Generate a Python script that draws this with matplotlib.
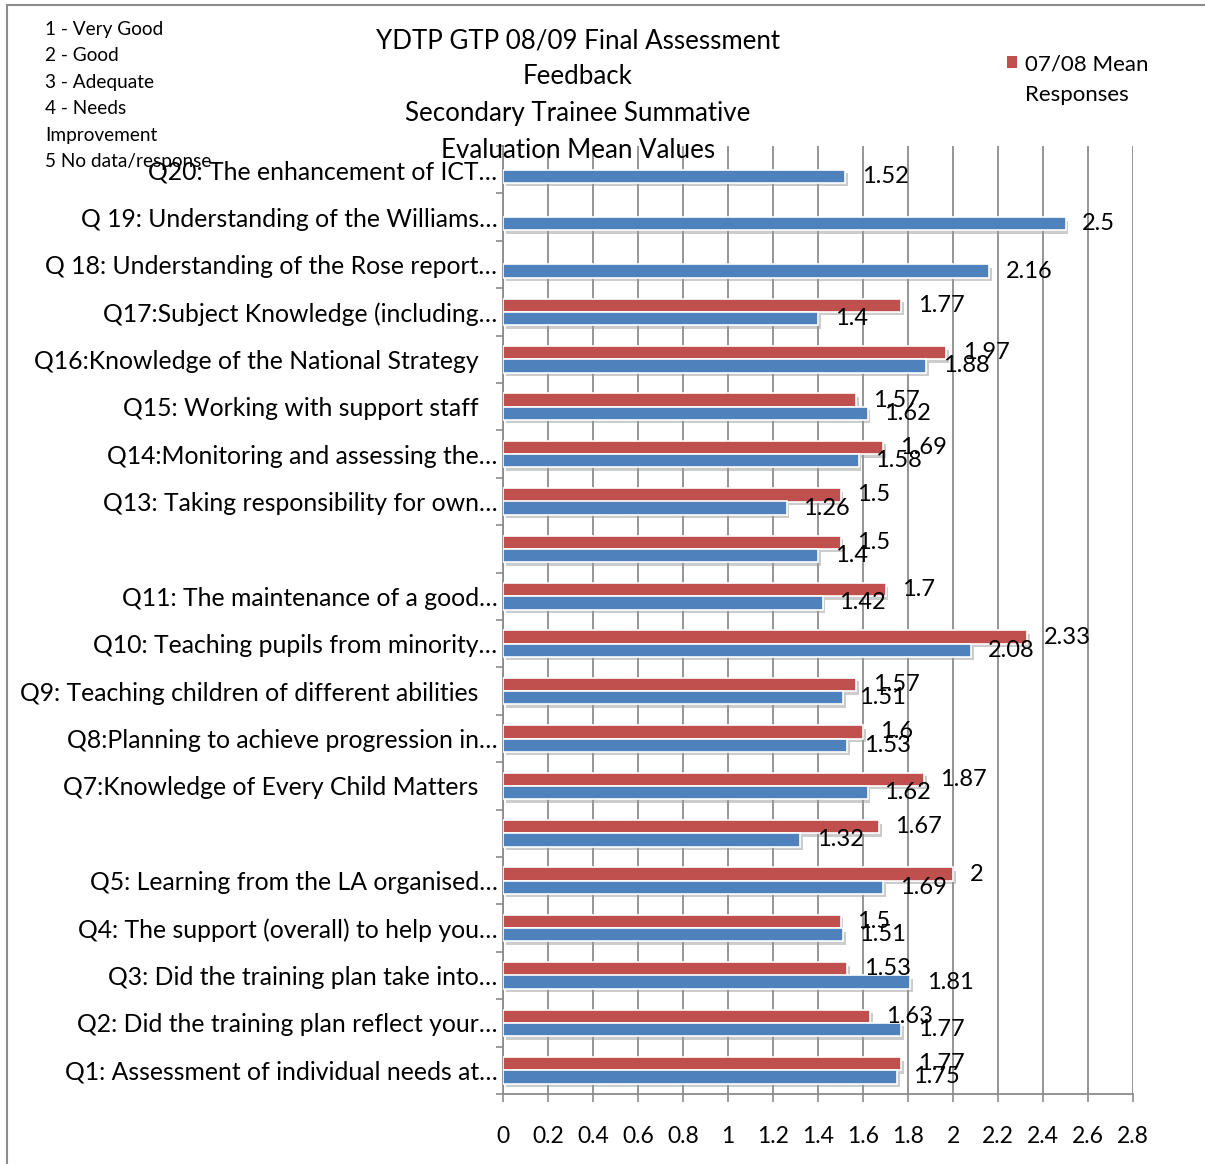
"""Horizontal bar chart: YDTP GTP 08/09 secondary trainee evaluation means."""

import matplotlib

matplotlib.use("Agg")
import matplotlib.pyplot as plt
import matplotlib.patheffects as pe
from matplotlib.patches import Patch, Rectangle
import numpy as np

plt.rcParams["font.family"] = ["Lato", "DejaVu Sans"]

# Q1 .. Q20 (bottom to top)
questions = [
    "Q1: Assessment of individual needs at…",
    "Q2: Did the training plan reflect your…",
    "Q3: Did the training plan take into…",
    "Q4: The support (overall) to help you…",
    "Q5: Learning from the LA organised…",
    "",
    "Q7:Knowledge of Every Child Matters   ",
    "Q8:Planning to achieve progression in…",
    "Q9: Teaching children of different abilities   ",
    "Q10: Teaching pupils from minority…",
    "Q11: The maintenance of a good…",
    "",
    "Q13: Taking responsibility for own…",
    "Q14:Monitoring and assessing the…",
    "Q15: Working with support staff   ",
    "Q16:Knowledge of the National Strategy   ",
    "Q17:Subject Knowledge (including…",
    "Q 18: Understanding of the Rose report…",
    "Q 19: Understanding of the Williams…",
    "Q20: The enhancement of ICT…",
]
mean_0809 = [1.75, 1.77, 1.81, 1.51, 1.69, 1.32, 1.62, 1.53, 1.51, 2.08,
             1.42, 1.4, 1.26, 1.58, 1.62, 1.88, 1.4, 2.16, 2.5, 1.52]
mean_0708 = [1.77, 1.63, 1.53, 1.5, 2.0, 1.67, 1.87, 1.6, 1.57, 2.33,
             1.7, 1.5, 1.5, 1.69, 1.57, 1.97, 1.77, np.nan, np.nan, np.nan]
x_ticks = np.arange(0, 2.81, 0.2)

title = ("YDTP GTP 08/09 Final Assessment\nFeedback\n"
         "Secondary Trainee Summative\nEvaluation Mean Values")
key_text = ("1 - Very Good\n2 - Good\n3 - Adequate\n4 - Needs\n"
            "Improvement\n5 No data/response")

BLUE = "#4F81BD"
RED = "#C0504D"
GRID = "#8C8C8C"

W, H = 1205, 1164
fig = plt.figure(figsize=(W / 100, H / 100), dpi=100)
ax = fig.add_axes([503 / W, 1 - 1094 / H, 630 / W, 948 / H])

y = np.arange(1, len(questions) + 1)
h = 0.28
shadow = [pe.SimplePatchShadow(offset=(2, -2.5), shadow_rgbFace="#9a9a9a", alpha=0.5),
          pe.Normal()]

red_bars = ax.barh(y + h / 2, mean_0708, height=h, color=RED, edgecolor="white",
                   linewidth=1.2, path_effects=shadow, zorder=3)
blue_bars = ax.barh(y - h / 2, mean_0809, height=h, color=BLUE, edgecolor="white",
                    linewidth=1.2, path_effects=shadow, zorder=3)

fmt = lambda v: "" if np.isnan(v) else f"{v:g}"
ax.bar_label(red_bars, labels=[fmt(v) for v in mean_0708], padding=12,
             fontsize=17, zorder=4)
ax.bar_label(blue_bars, labels=[fmt(v) for v in mean_0809], padding=12,
             fontsize=17, zorder=4)

ax.set_xlim(0, 2.8)
ax.set_ylim(0.5, len(questions) + 0.5)
ax.set_xticks(x_ticks)
ax.set_xticklabels([f"{t:g}" for t in x_ticks], fontsize=16.5)
ax.set_yticks(y)
ax.set_yticklabels(questions, fontsize=17.8)
ax.set_yticks(np.arange(0.5, len(questions) + 0.6, 1), minor=True)
ax.tick_params(axis="y", which="major", length=0, pad=4)
ax.tick_params(axis="y", which="minor", length=5, width=1.2, color=GRID)
ax.tick_params(axis="x", length=6, width=1.2, color=GRID, pad=17)

ax.grid(axis="x", color=GRID, linewidth=1.3, zorder=0)
ax.set_axisbelow(True)
for side in ("top", "right"):
    ax.spines[side].set_visible(False)
for side in ("left", "bottom"):
    ax.spines[side].set_color(GRID)
    ax.spines[side].set_linewidth(1.3)

fig.text(578 / W, 1 - 28 / H, title, ha="center", va="top", fontsize=18.6,
         linespacing=1.575)
fig.text(45 / W, 1 - 21 / H, key_text, ha="left", va="top", fontsize=13.7,
         linespacing=1.67)

fig.legend(handles=[Patch(facecolor=RED)], labels=["07/08 Mean"],
           loc="upper left", bbox_to_anchor=(996 / W, 1 - 43 / H),
           frameon=False, fontsize=16, handlelength=0.45, handleheight=0.45,
           handletextpad=0.35, borderpad=0)
fig.text(1025 / W, 1 - 95 / H, "Responses", ha="left", va="center", fontsize=16)

fig.patches.append(Rectangle((7 / W, -0.05), 1.1, 1.05 - 5 / H, transform=fig.transFigure,
                             fill=False, edgecolor="#8C8C8C", linewidth=1.5))

fig.savefig("out.png", dpi=100)
